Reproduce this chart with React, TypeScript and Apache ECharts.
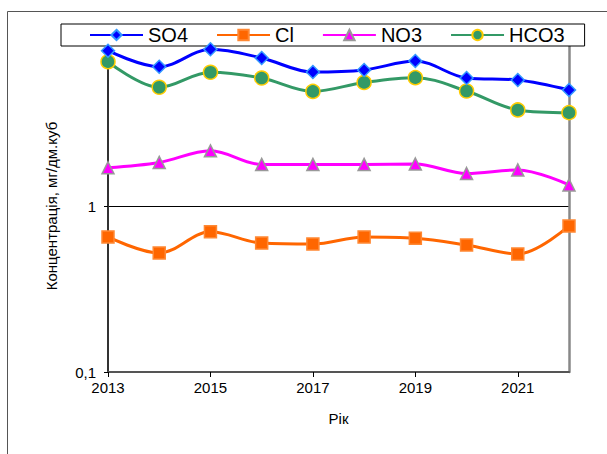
import React, { useEffect, useRef } from "react";
import * as echarts from "echarts";

const years = ["2013", "2014", "2015", "2016", "2017", "2018", "2019", "2020", "2021", "2022"];
const so4 = [8.62, 6.9, 8.79, 7.79, 6.41, 6.6, 7.47, 5.9, 5.74, 5.0];
const cl = [0.651, 0.521, 0.7, 0.598, 0.59, 0.651, 0.64, 0.582, 0.514, 0.758];
const no3 = [1.7, 1.83, 2.15, 1.78, 1.78, 1.78, 1.79, 1.57, 1.65, 1.34];
const hco3 = [7.4, 5.19, 6.39, 5.9, 4.9, 5.55, 5.93, 4.93, 3.79, 3.65];

const FONT = "Liberation Sans";

export default function App() {
  const ref = useRef<HTMLDivElement>(null);
  useEffect(() => {
    document.body.style.margin = "0";
    const chart = echarts.init(ref.current!, null, { renderer: "svg" });
    const mk = (name: string, data: number[], color: string, symbol: string, size: number, border: string, z: number) => ({
      name,
      type: "line",
      data,
      smooth: 0.35,
      symbol,
      symbolSize: size,
      z,
      lineStyle: { color, width: 3 },
      itemStyle: { color, borderColor: border, borderWidth: 1.5 },
    });
    chart.setOption({
      animation: false,
      backgroundColor: "#fff",
      textStyle: { fontFamily: FONT },
      graphic: [
        {
          type: "rect",
          shape: { x: 7.5, y: 11.5, width: 640, height: 480 },
          style: { fill: "none", stroke: "#555", lineWidth: 1 },
          z: -10,
        },
      ],
      legend: {
        left: 61,
        top: 24,
        padding: [1, 20, 1, 28],
        itemGap: 28,
        itemWidth: 53,
        itemHeight: 13,
        backgroundColor: "#fff",
        borderColor: "#000",
        borderWidth: 1,
        borderRadius: 0,
        textStyle: { fontSize: 20, color: "#000", fontFamily: FONT },
        data: ["SO4", "Cl", "NO3", "HCO3"],
      },
      grid: { left: 108, right: 38, top: 40, bottom: 82, containLabel: false },
      xAxis: {
        type: "category",
        data: years,
        boundaryGap: false,
        name: "Рік",
        nameLocation: "middle",
        nameGap: 39,
        nameTextStyle: { fontSize: 15, color: "#000", fontFamily: FONT },
        axisLine: { lineStyle: { color: "#555", width: 2 } },
        axisTick: { interval: 1, length: 5, lineStyle: { color: "#000" } },
        axisLabel: { interval: 1, fontSize: 15, color: "#000", margin: 8, fontFamily: FONT },
        splitLine: { show: false },
      },
      yAxis: [
        {
          type: "log",
          logBase: 10,
          min: 0.1,
          max: 10,
          name: "Концентрація, мг/дм.куб",
          nameLocation: "middle",
          nameGap: 49,
          nameTextStyle: { fontSize: 15, color: "#000", fontFamily: FONT },
          axisLine: { show: true, lineStyle: { color: "#333", width: 2 } },
          axisTick: { show: true, length: 4, lineStyle: { color: "#000" } },
          axisLabel: {
            fontSize: 15,
            color: "#000",
            margin: 12,
            fontFamily: FONT,
            formatter: (v: number) => (v >= 10 ? "" : String(v).replace(".", ",")),
          },
          splitLine: { show: true, lineStyle: { color: "#000", width: 1 } },
        },
        {
          type: "log",
          logBase: 10,
          min: 0.1,
          max: 10,
          position: "right",
          axisLine: { show: true, lineStyle: { color: "#888", width: 2.5 } },
          axisTick: { show: false },
          axisLabel: { show: false },
          splitLine: { show: false },
        },
      ],
      series: [
        mk("SO4", so4, "#0000FF", "diamond", 13, "#3399FF", 4),
        mk("Cl", cl, "#FF6600", "rect", 12, "#FF8833", 3),
        mk("NO3", no3, "#FF00FF", "triangle", 12, "#999999", 3),
        mk("HCO3", hco3, "#339966", "circle", 14, "#FFCC00", 3),
      ],
    });
    return () => chart.dispose();
  }, []);
  return <div ref={ref} style={{ width: 607, height: 454 }} />;
}
